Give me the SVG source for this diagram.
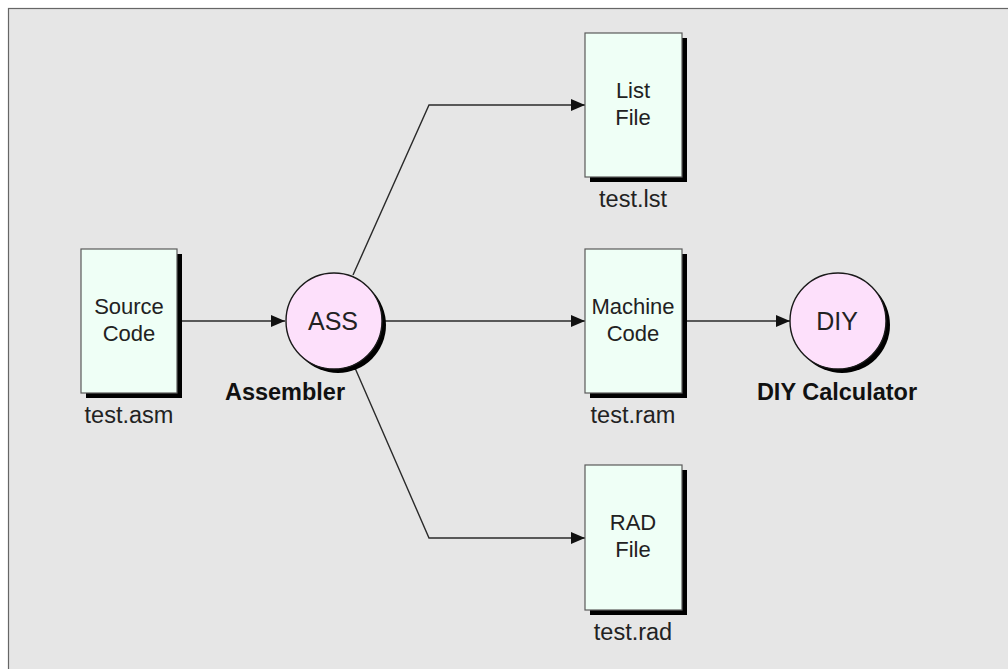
<svg xmlns="http://www.w3.org/2000/svg" width="1008" height="669" viewBox="0 0 1008 669">
  <style>
    .file { fill: #effff6; stroke: #5a5a5a; stroke-width: 1.2; }
    .proc { fill: #fde0fb; stroke: #1a1a1a; stroke-width: 1.4; }
    .shadow { fill: #000; }
    .name { font-family: "Liberation Sans", Arial, sans-serif; font-size: 22px; fill: #222; text-anchor: middle; }
    .big { font-family: "Liberation Sans", Arial, sans-serif; font-size: 25px; fill: #222; text-anchor: middle; }
    .fname { font-family: "Liberation Sans", Arial, sans-serif; font-size: 23.5px; fill: #222; text-anchor: middle; }
    .title { font-family: "Liberation Sans", Arial, sans-serif; font-size: 23.5px; font-weight: bold; fill: #111; text-anchor: middle; }
    .wire { fill: none; stroke: #2a2a2a; stroke-width: 1.4; }
  </style>
  <defs>
    <marker id="arrow" viewBox="0 0 14 12" refX="14" refY="6" markerWidth="14" markerHeight="12" markerUnits="userSpaceOnUse" orient="auto">
      <path d="M0,0 L14,6 L0,12 Z" fill="#111"/>
    </marker>
  </defs>

  <!-- page -->
  <rect width="1008" height="669" fill="#fff"/>
  <rect x="8.5" y="8.5" width="1010" height="670" fill="#e6e6e6" stroke="#666" stroke-width="1.2"/>

  <!-- connectors -->
  <g id="connectors">
    <line class="wire" x1="177" y1="321" x2="285" y2="321" marker-end="url(#arrow)"/>
    <line class="wire" x1="382" y1="321" x2="585" y2="321" marker-end="url(#arrow)"/>
    <line class="wire" x1="682" y1="321" x2="790" y2="321" marker-end="url(#arrow)"/>
    <polyline class="wire" points="353,275 429,105 585,105" marker-end="url(#arrow)"/>
    <polyline class="wire" points="355,368 429,538 585,538" marker-end="url(#arrow)"/>
  </g>

  <!-- source file -->
  <g id="source">
    <rect class="shadow" x="86" y="254" width="96" height="144"/>
    <rect class="file" x="81" y="249" width="96" height="144"/>
    <text class="name" x="129" y="314">Source</text>
    <text class="name" x="129" y="341">Code</text>
    <text class="fname" x="129" y="423">test.asm</text>
  </g>

  <!-- assembler -->
  <g id="assembler">
    <circle class="shadow" cx="338" cy="325" r="48"/>
    <circle class="proc" cx="334" cy="321" r="48"/>
    <text class="big" x="333" y="330">ASS</text>
    <text class="title" x="285" y="400">Assembler</text>
  </g>

  <!-- list file -->
  <g id="list">
    <rect class="shadow" x="590" y="38" width="97" height="144"/>
    <rect class="file" x="585" y="33" width="97" height="144"/>
    <text class="name" x="633" y="98">List</text>
    <text class="name" x="633" y="125">File</text>
    <text class="fname" x="633" y="207">test.lst</text>
  </g>

  <!-- machine code -->
  <g id="machine">
    <rect class="shadow" x="590" y="254" width="97" height="144"/>
    <rect class="file" x="585" y="249" width="97" height="144"/>
    <text class="name" x="633" y="314">Machine</text>
    <text class="name" x="633" y="341">Code</text>
    <text class="fname" x="633" y="423">test.ram</text>
  </g>

  <!-- rad file -->
  <g id="rad">
    <rect class="shadow" x="590" y="470" width="97" height="145"/>
    <rect class="file" x="585" y="465" width="97" height="145"/>
    <text class="name" x="633" y="530">RAD</text>
    <text class="name" x="633" y="557">File</text>
    <text class="fname" x="633" y="640">test.rad</text>
  </g>

  <!-- calculator -->
  <g id="calculator">
    <circle class="shadow" cx="842" cy="325" r="48"/>
    <circle class="proc" cx="838" cy="321" r="48"/>
    <text class="big" x="837" y="330">DIY</text>
    <text class="title" x="837" y="400">DIY Calculator</text>
  </g>
</svg>
